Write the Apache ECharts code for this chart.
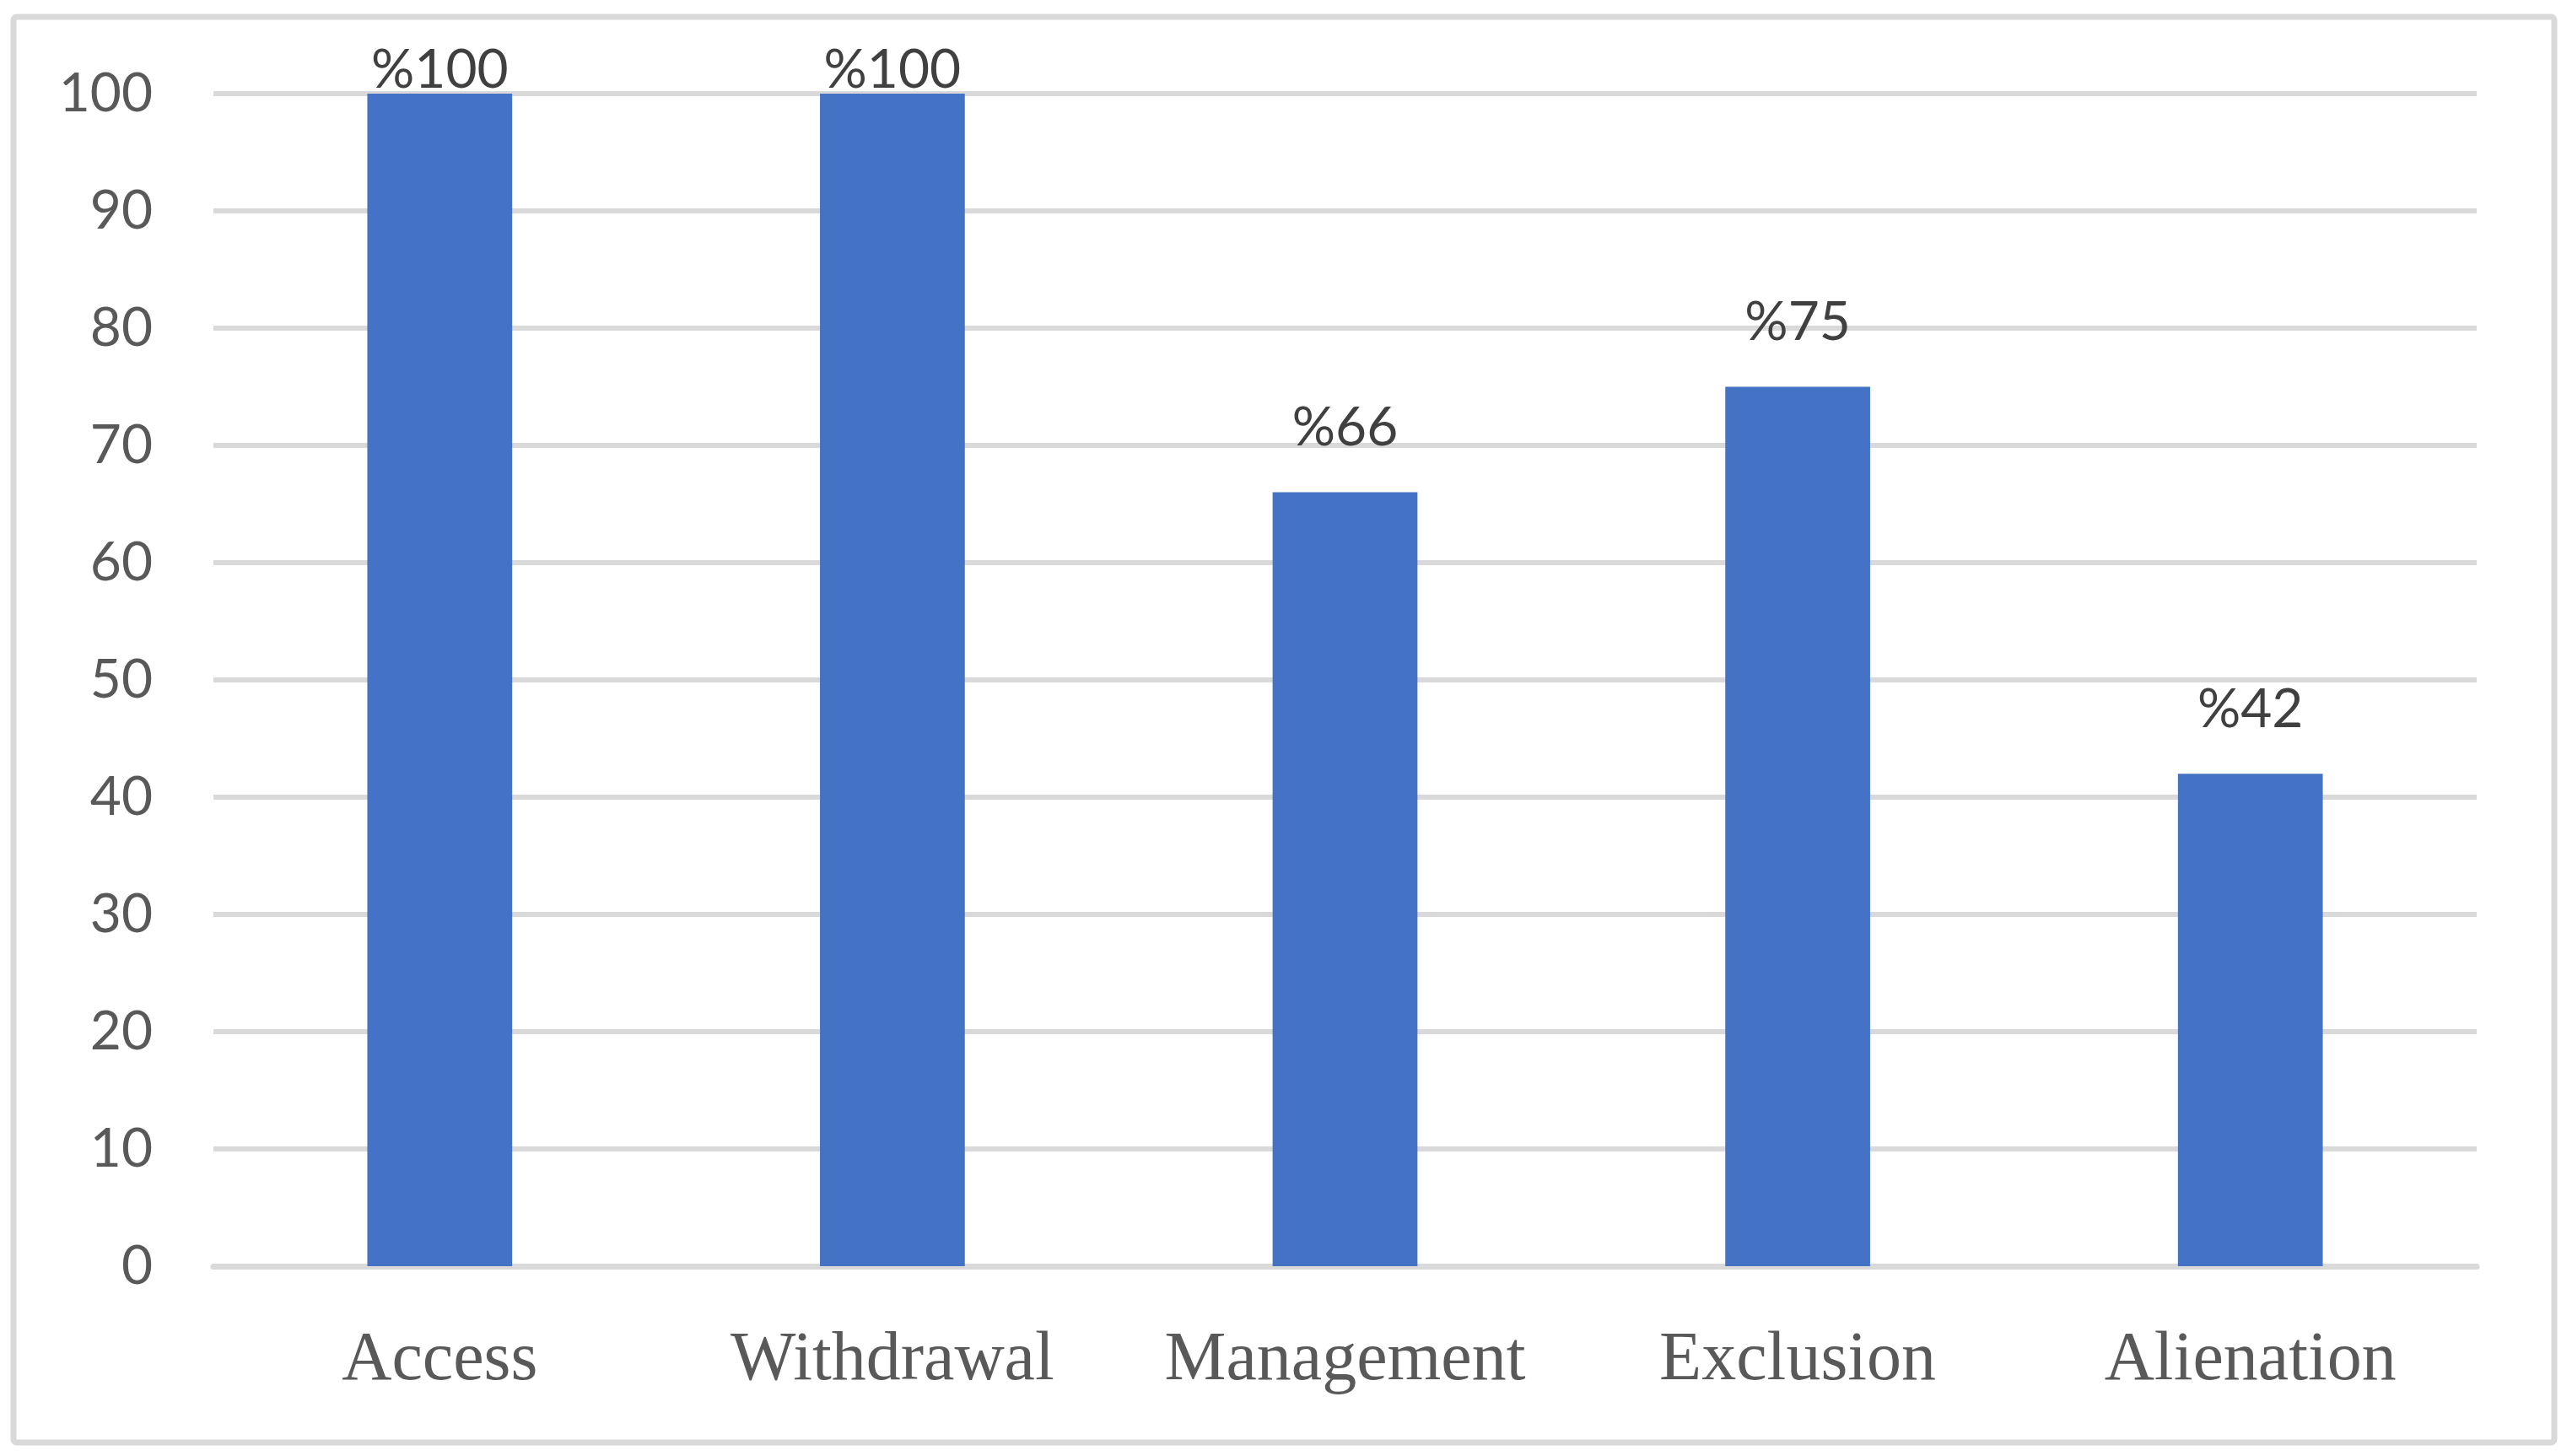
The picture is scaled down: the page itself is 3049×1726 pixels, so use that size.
<!DOCTYPE html>
<html>
<head>
<meta charset="utf-8">
<script src="https://cdn.jsdelivr.net/npm/echarts@6/dist/echarts.min.js"></script>
<style>
html,body{margin:0;padding:0;background:#fff;}
#chart{width:3049px;height:1726px;}
</style>
</head>
<body>
<div id="chart"></div>
<script>
const categories = ['Access', 'Withdrawal', 'Management', 'Exclusion', 'Alienation'];
const values = [100, 100, 66, 75, 42];
const yTicks = { min: 0, max: 100, interval: 10 };

const chart = echarts.init(document.getElementById('chart'), null, { renderer: 'canvas' });
const option = {
  backgroundColor: '#ffffff',
  animation: false,
  graphic: [{
    type: 'rect',
    shape: { x: 16, y: 20, width: 3012, height: 1690, r: 4 },
    style: { fill: 'none', stroke: '#D9D9D9', lineWidth: 7 },
    z: -1
  }],
  grid: { left: 253, right: 113, top: 111, bottom: 225, containLabel: false },
  xAxis: {
    type: 'category',
    data: categories,
    axisLine: { show: true, lineStyle: { color: '#D9D9D9', width: 7 } },
    axisTick: { show: false },
    axisLabel: {
      interval: 0,
      color: '#595959',
      fontFamily: 'Liberation Serif',
      fontSize: 82,
      margin: 71,
      lineHeight: 82
    },
    splitLine: { show: false }
  },
  yAxis: {
    type: 'value',
    min: yTicks.min,
    max: yTicks.max,
    interval: yTicks.interval,
    axisLine: { show: false },
    axisTick: { show: false },
    axisLabel: {
      color: '#595959',
      fontFamily: 'Lato',
      fontSize: 64,
      margin: 72
    },
    splitLine: { show: true, lineStyle: { color: '#D9D9D9', width: 6 } }
  },
  series: [{
    type: 'bar',
    barWidth: '32%',
    itemStyle: { color: '#4472C4' },
    data: values.map(v => ({
      value: v,
      label: { distance: v >= yTicks.max ? -4 : 44 }
    })),
    label: {
      show: true,
      position: 'top',
      color: '#404040',
      fontFamily: 'Lato',
      fontSize: 64,
      formatter: p => '%' + p.value
    }
  }]
};
chart.setOption(option);
</script>
</body>
</html>
